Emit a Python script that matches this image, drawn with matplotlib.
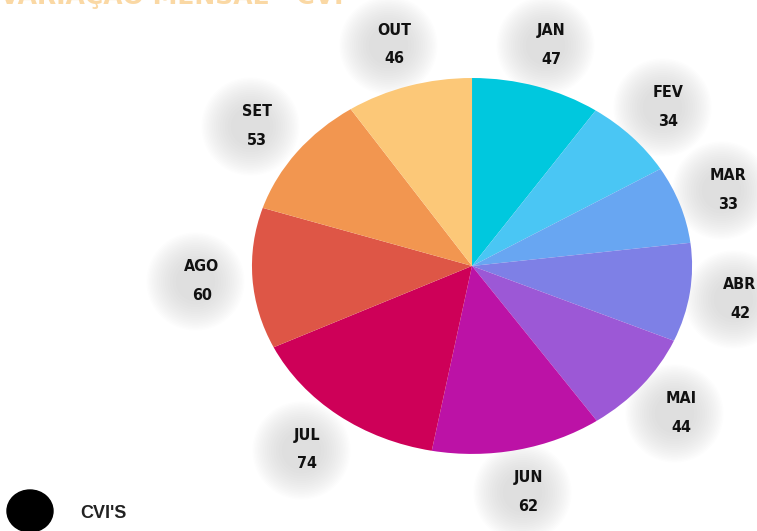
import numpy as np
import matplotlib.pyplot as plt

#%% Data

months = ["JAN", "FEV", "MAR", "ABR", "MAI", "JUN", "JUL", "AGO", "SET", "OUT"]
values = [47, 34, 33, 42, 44, 62, 74, 60, 53, 46]
colors = ["#00C8DE", "#4AC6F4", "#68A6F2", "#7E80E6", "#9C58D6",
          "#BC12A6", "#CE0058", "#DE5646", "#F29650", "#FCC878"]

#%% Plot

fig = plt.figure(figsize=(7.57, 5.31), dpi=100)
ax = fig.add_axes([0, 0, 1, 1])

wedges, texts = ax.pie(values, colors=colors, startangle=90, counterclock=False,
                       labels=[f"{m}\n{v}" for m, v in zip(months, values)],
                       labeldistance=1.23,
                       textprops=dict(fontsize=11.5, weight="bold", fontstretch="condensed",
                                      family="DejaVu Sans", ha="center", va="center",
                                      linespacing=2.15, color="#111111"))
ax.set_aspect("auto")
ax.set_xlim(-2.145, 1.295)
ax.set_ylim(-1.41, 1.415)
ax.axis("off")

# soft gray blobs behind the labels
for t in texts:
    x, y = t.get_position()
    for s in np.linspace(5000, 800, 16):
        ax.scatter([x - 0.03], [y], s=s, color="#8a8a8a", alpha=0.016, lw=0, zorder=0)
    t.set_zorder(5)

# title cut off at the top
fig.text(0.0, 1 - 4 / 531, "VARIAÇÃO MENSAL - CVI", color="#F7B24A", fontsize=18,
         weight="bold", va="baseline", ha="left", alpha=0.5)

# legend
fig.patches.append(plt.matplotlib.patches.Ellipse((30 / 757, 1 - 511 / 531), 46 / 757, 42 / 531,
                                                  transform=fig.transFigure, color="black"))
fig.text(80 / 757, 1 - 513 / 531, "CVI'S", fontsize=13, family="Liberation Sans",
         weight="bold", va="center", ha="left", color="#222222")

fig.savefig("out.png", dpi=100)
